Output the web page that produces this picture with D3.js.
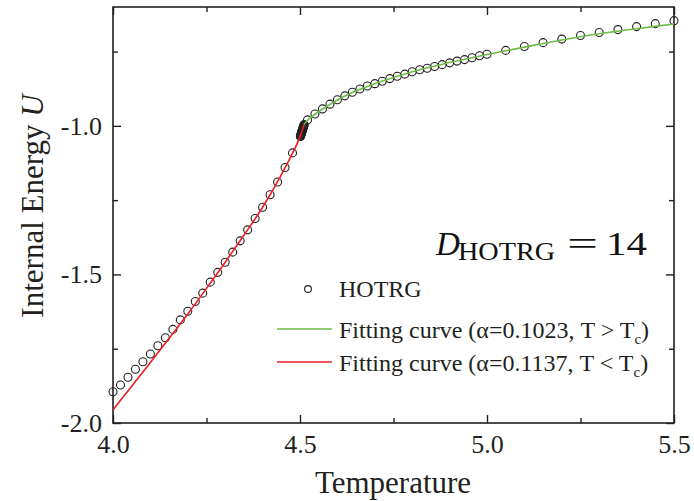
<!DOCTYPE html>
<html>
<head>
<meta charset="utf-8">
<script src="https://cdn.jsdelivr.net/npm/d3@7"></script>
<style>
  html, body { margin: 0; padding: 0; background: #fff; }
  svg { display: block; font-family: "Liberation Serif", "Times New Roman", serif; }
</style>
</head>
<body>
<svg id="chart" width="694" height="501"></svg>
<script>
// HOTRG internal energy samples (temperature, U)
const hotrgT = [
  4.00, 4.02, 4.04, 4.06, 4.08, 4.10, 4.12, 4.14, 4.16, 4.18,
  4.20, 4.22, 4.24, 4.26, 4.28, 4.30, 4.32, 4.34, 4.36, 4.38,
  4.40, 4.42, 4.44, 4.46, 4.48,
  4.5010, 4.5015, 4.5020, 4.5025, 4.5030, 4.5035, 4.5040, 4.5045, 4.5050, 4.5055,
  4.5060, 4.5065, 4.5070, 4.5075, 4.5080, 4.5085, 4.5090, 4.5095, 4.5100, 4.5105, 4.5110,
  4.52, 4.54, 4.56, 4.58, 4.60, 4.62, 4.64, 4.66, 4.68, 4.70,
  4.72, 4.74, 4.76, 4.78, 4.80, 4.82, 4.84, 4.86, 4.88, 4.90,
  4.92, 4.94, 4.96, 4.98, 5.00,
  5.05, 5.10, 5.15, 5.20, 5.25, 5.30, 5.35, 5.40, 5.45, 5.50
];
const hotrgU = [
  -1.895, -1.872, -1.846, -1.819, -1.794, -1.768, -1.740, -1.713, -1.685, -1.653,
  -1.624, -1.591, -1.563, -1.526, -1.493, -1.459, -1.425, -1.387, -1.350, -1.312,
  -1.274, -1.232, -1.189, -1.140, -1.091,
  -1.036, -1.034, -1.032, -1.030, -1.028, -1.026, -1.024, -1.022, -1.020, -1.018,
  -1.016, -1.014, -1.012, -1.010, -1.008, -1.006, -1.004, -1.002, -1.000, -0.998, -0.996,
  -0.980, -0.960, -0.943, -0.927, -0.912, -0.899, -0.887, -0.876, -0.866, -0.858,
  -0.850, -0.841, -0.833, -0.826, -0.818, -0.811, -0.806, -0.800, -0.794, -0.788,
  -0.782, -0.777, -0.771, -0.764, -0.759,
  -0.746, -0.733, -0.720, -0.708, -0.696, -0.686, -0.676, -0.666, -0.656, -0.646
];

// Fitted curve above Tc (alpha = 0.1023)
const fitHighT = [4.511, 4.52, 4.54, 4.56, 4.60, 4.65, 4.70, 4.75, 4.80, 4.85, 4.90, 4.95, 5.00, 5.10, 5.20, 5.30, 5.40, 5.50];
const fitHighU = [-0.995, -0.981, -0.961, -0.944, -0.913, -0.882, -0.858, -0.837, -0.818, -0.802, -0.787, -0.773, -0.760, -0.735, -0.711, -0.690, -0.673, -0.657];

// Fitted curve below Tc (alpha = 0.1137)
const fitLowT = [4.00, 4.05, 4.10, 4.15, 4.20, 4.25, 4.30, 4.35, 4.40, 4.45, 4.48, 4.50, 4.511];
const fitLowU = [-1.956, -1.876, -1.796, -1.715, -1.633, -1.547, -1.459, -1.368, -1.274, -1.165, -1.092, -1.037, -0.995];

// Axis ticks
const xMajorTicks = [4.0, 4.5, 5.0, 5.5];
const xMinorTicks = [4.25, 4.75, 5.25];
const yMajorTicks = [-2.0, -1.5, -1.0];
const yMinorTicks = [-1.75, -1.25, -0.75];

const legendLabels = ["HOTRG", "Fitting curve (\u03B1=0.1023, T > T", "Fitting curve (\u03B1=0.1137, T < T"];

const ink = "#231f20";
const green = "#6cbd45";
const red = "#ee1d23";

const svg = d3.select("#chart");
const x = d3.scaleLinear().domain([4.0, 5.5]).range([113, 674]);
const y = d3.scaleLinear().domain([-2.0, -0.6]).range([423, 7]);

// plain hyphen for negative numbers
const fmt = v => v.toFixed(1);
const styleAxis = g => {
  g.select(".domain").remove();
  g.attr("font-family", null).attr("font-size", null);
  g.selectAll(".tick line").attr("stroke", ink).attr("stroke-width", 1.4);
  g.selectAll(".tick text").attr("fill", ink).style("font-size", "26px")
    .style("font-family", "'Liberation Serif', 'Times New Roman', serif");
};

// bottom axis
svg.append("g").attr("transform", `translate(0,${y.range()[0]})`)
  .call(d3.axisBottom(x).tickValues(xMajorTicks).tickFormat(fmt).tickSize(-8).tickSizeOuter(0).tickPadding(12))
  .call(styleAxis);
svg.append("g").attr("transform", `translate(0,${y.range()[0]})`)
  .call(d3.axisBottom(x).tickValues(xMinorTicks).tickFormat("").tickSize(-5).tickSizeOuter(0))
  .call(styleAxis);
// top axis
svg.append("g").attr("transform", `translate(0,${y.range()[1]})`)
  .call(d3.axisTop(x).tickValues(xMajorTicks).tickFormat("").tickSize(-8).tickSizeOuter(0))
  .call(styleAxis);
svg.append("g").attr("transform", `translate(0,${y.range()[1]})`)
  .call(d3.axisTop(x).tickValues(xMinorTicks).tickFormat("").tickSize(-5).tickSizeOuter(0))
  .call(styleAxis);
// left axis
svg.append("g").attr("transform", `translate(${x.range()[0]},0)`)
  .call(d3.axisLeft(y).tickValues(yMajorTicks).tickFormat(fmt).tickSize(-8).tickSizeOuter(0).tickPadding(11))
  .call(styleAxis);
svg.append("g").attr("transform", `translate(${x.range()[0]},0)`)
  .call(d3.axisLeft(y).tickValues(yMinorTicks).tickFormat("").tickSize(-5).tickSizeOuter(0))
  .call(styleAxis);
// right axis
svg.append("g").attr("transform", `translate(${x.range()[1]},0)`)
  .call(d3.axisRight(y).tickValues(yMajorTicks).tickFormat("").tickSize(-8).tickSizeOuter(0))
  .call(styleAxis);
svg.append("g").attr("transform", `translate(${x.range()[1]},0)`)
  .call(d3.axisRight(y).tickValues(yMinorTicks).tickFormat("").tickSize(-5).tickSizeOuter(0))
  .call(styleAxis);

// plot frame
svg.append("rect")
  .attr("x", x.range()[0]).attr("y", y.range()[1])
  .attr("width", x.range()[1] - x.range()[0]).attr("height", y.range()[0] - y.range()[1])
  .attr("fill", "none").attr("stroke", ink).attr("stroke-width", 1.6);

// HOTRG circles
svg.append("g").selectAll("circle")
  .data(hotrgT.map((t, i) => [t, hotrgU[i]]))
  .join("circle")
  .attr("cx", d => x(d[0])).attr("cy", d => y(d[1])).attr("r", 4)
  .attr("fill", "none").attr("stroke", ink).attr("stroke-width", 1.1);

// fit curves
const line = d3.line().x(d => x(d[0])).y(d => y(d[1])).curve(d3.curveMonotoneX);
svg.append("path").datum(fitLowT.map((t, i) => [t, fitLowU[i]]))
  .attr("d", line).attr("fill", "none").attr("stroke", red).attr("stroke-width", 1.6);
svg.append("path").datum(fitHighT.map((t, i) => [t, fitHighU[i]]))
  .attr("d", line).attr("fill", "none").attr("stroke", green).attr("stroke-width", 1.6);

// axis titles
svg.append("text")
  .attr("x", 393).attr("y", 493).attr("text-anchor", "middle")
  .attr("fill", ink).style("font-size", "31px").text("Temperature");

const yTitle = svg.append("text")
  .attr("transform", "translate(43,206) rotate(-90)")
  .attr("text-anchor", "middle").attr("fill", ink).style("font-size", "31px");
yTitle.append("tspan").text("Internal Energy ");
yTitle.append("tspan").style("font-style", "italic").text("U");

// bond dimension annotation
const ann = svg.append("g").attr("fill", "#111");
ann.append("text").attr("x", 436).attr("y", 255).style("font-size", "33px")
  .style("font-style", "italic").text("D");
ann.append("text").attr("x", 458).attr("y", 260).style("font-size", "25px")
  .attr("textLength", 97).attr("lengthAdjust", "spacingAndGlyphs").text("HOTRG");
ann.append("text").attr("x", 567).attr("y", 255).style("font-size", "33px")
  .attr("textLength", 31).attr("lengthAdjust", "spacingAndGlyphs").text("=");
ann.append("text").attr("x", 606).attr("y", 255).style("font-size", "33px")
  .attr("textLength", 41).attr("lengthAdjust", "spacingAndGlyphs").text("14");

// legend
const leg = svg.append("g");
leg.append("circle").attr("cx", 308).attr("cy", 289).attr("r", 3.4)
  .attr("fill", "none").attr("stroke", ink).attr("stroke-width", 1.1);
leg.append("text").attr("x", 339).attr("y", 297).attr("fill", ink)
  .style("font-size", "24px").text(legendLabels[0]);

[[green, 329, 338, legendLabels[1]], [red, 362, 371, legendLabels[2]]].forEach(([c, ly, ty, label]) => {
  leg.append("line").attr("x1", 277).attr("x2", 332).attr("y1", ly).attr("y2", ly)
    .attr("stroke", c).attr("stroke-width", 1.6);
  const t = leg.append("text").attr("x", 339).attr("y", ty).attr("fill", ink).style("font-size", "24px");
  t.append("tspan").text(label);
  t.append("tspan").attr("dy", 6).style("font-size", "15px").text("c");
  t.append("tspan").attr("dy", -6).text(")");
});
</script>
</body>
</html>
